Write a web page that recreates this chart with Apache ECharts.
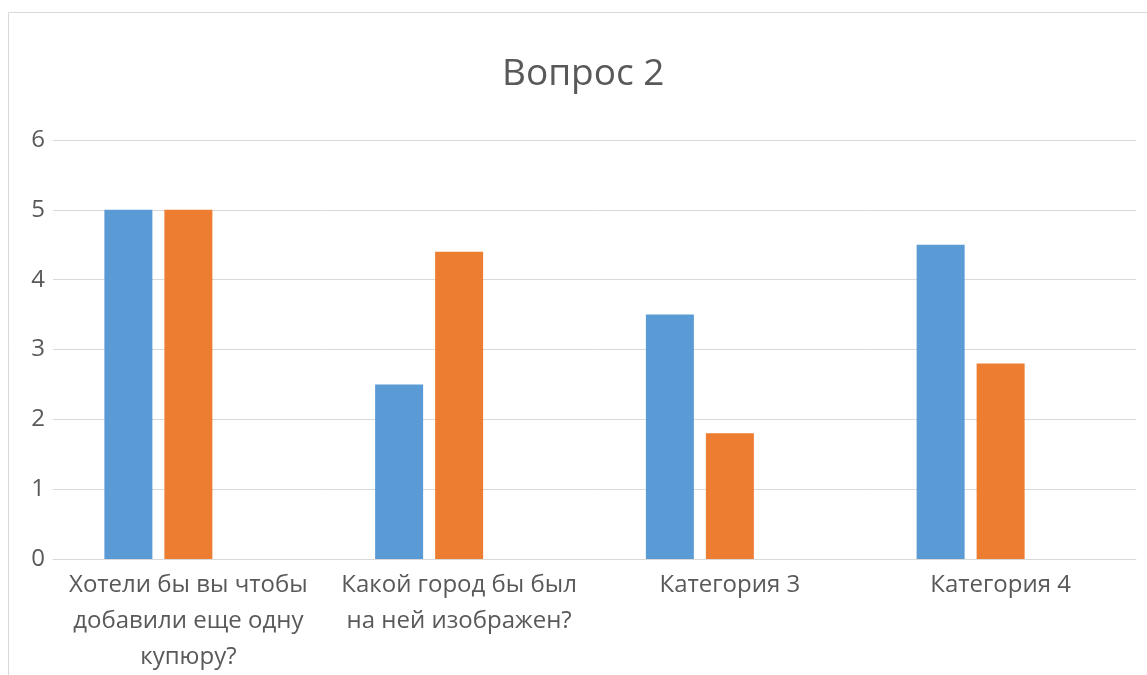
<!DOCTYPE html>
<html>
<head>
<meta charset="utf-8">
<script src="https://cdn.jsdelivr.net/npm/echarts@6/dist/echarts.min.js"></script>
<style>
  html, body { margin: 0; padding: 0; background: #fff; }
  #chart { width: 1147px; height: 675px; }
</style>
</head>
<body>
<div id="chart"></div>
<script>
// категории (подписи оси X)
var categories = [
  'Хотели бы вы чтобы\nдобавили еще одну\nкупюру?',
  'Какой город бы был\nна ней изображен?',
  'Категория 3',
  'Категория 4'
];
var series1 = [5, 2.5, 3.5, 4.5];   // синий ряд
var series2 = [5, 4.4, 1.8, 2.8];   // оранжевый ряд
var series3 = [null, null, null, null]; // пустой третий ряд
var yTicks = [0, 1, 2, 3, 4, 5, 6];

var chart = echarts.init(document.getElementById('chart'));
chart.setOption({
  animation: false,
  textStyle: { fontFamily: 'Open Sans' },
  title: {
    text: 'Вопрос 2',
    left: 497,
    top: 51,
    textStyle: { fontSize: 37, fontWeight: 'normal', color: '#595959', fontFamily: 'Open Sans' }
  },
  graphic: [{
    type: 'rect',
    shape: { x: 8.5, y: 12.5, width: 1200, height: 700 },
    style: { fill: 'none', stroke: '#d9d9d9', lineWidth: 1 },
    silent: true
  }],
  grid: { left: 53, right: 11, top: 140, bottom: 115 },
  xAxis: {
    type: 'category',
    data: categories,
    axisLine: { show: true, lineStyle: { color: '#d9d9d9', width: 1 } },
    axisTick: { show: false },
    axisLabel: { color: '#595959', fontSize: 24, lineHeight: 36, margin: 8, interval: 0 }
  },
  yAxis: {
    type: 'value',
    min: yTicks[0],
    max: yTicks[yTicks.length - 1],
    interval: 1,
    axisLine: { show: false },
    axisTick: { show: false },
    splitLine: { lineStyle: { color: '#d9d9d9', width: 1 } },
    axisLabel: { color: '#595959', fontSize: 24, margin: 8 }
  },
  series: [
    { name: 'Ряд 1', type: 'bar', data: series1, barWidth: 48, barGap: '25%', itemStyle: { color: '#5b9bd5' } },
    { name: 'Ряд 2', type: 'bar', data: series2, barWidth: 48, barGap: '25%', itemStyle: { color: '#ed7d31' } },
    { name: 'Ряд 3', type: 'bar', data: series3, barWidth: 48, barGap: '25%', itemStyle: { color: '#a5a5a5' } }
  ]
});
</script>
</body>
</html>
